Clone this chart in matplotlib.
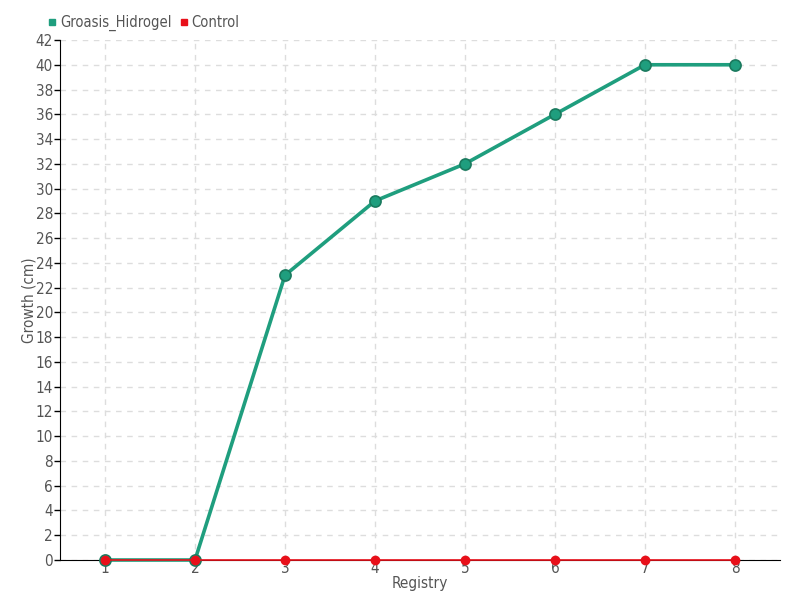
import matplotlib
matplotlib.use("Agg")
import matplotlib.pyplot as plt
from matplotlib.lines import Line2D

registry = [1, 2, 3, 4, 5, 6, 7, 8]
groasis = [0, 0, 23, 29, 32, 36, 40, 40]
control = [0, 0, 0, 0, 0, 0, 0, 0]
yticks = list(range(0, 43, 2))

plt.rcParams['font.family'] = ['DejaVu Sans']
plt.rcParams['font.stretch'] = 'condensed'
txt = '#555555'
green = '#1f9e7e'
green_dark = '#1a7a5e'
red = '#e8101a'

fig = plt.figure(figsize=(8, 6), dpi=100)
ax = fig.add_axes([60/800, 40/600, 720/800, 520/600])

ax.plot(registry, groasis, color=green, lw=2.6, marker='o', ms=8,
        markerfacecolor=green, markeredgecolor=green_dark, markeredgewidth=1.2, zorder=3,
        clip_on=False)
ax.plot(registry, control, color=red, lw=1.2, marker='o', ms=6,
        markerfacecolor=red, markeredgecolor=red, zorder=4, clip_on=False)

ax.set_xlim(0.5, 8.5)
ax.set_ylim(0, 42)
ax.set_xticks(registry)
ax.set_yticks(yticks)
ax.tick_params(axis='x', length=0, pad=1, labelsize=11, labelcolor=txt)
ax.tick_params(axis='y', length=4, width=1, direction='out', pad=1, labelsize=11, labelcolor=txt)
ax.grid(True, color='#dddddd', linestyle=(0, (4, 4)), linewidth=1)
ax.set_axisbelow(True)
for s in ['top', 'right']:
    ax.spines[s].set_visible(False)
ax.spines['left'].set_color('black')
ax.spines['bottom'].set_color('black')
ax.set_xlabel('Registry', fontsize=11, color=txt, labelpad=0)
ax.set_ylabel('Growth (cm)', fontsize=11, color=txt, labelpad=-1)

handles = [Line2D([], [], ls='none', marker='s', ms=5, color=green),
           Line2D([], [], ls='none', marker='s', ms=5, color=red)]
leg = fig.legend(handles, ['Groasis_Hidrogel', 'Control'], loc='upper left',
                 bbox_to_anchor=(32/800, 1 - 2/600), ncol=2, frameon=False,
                 handletextpad=0.05, columnspacing=0.3, handlelength=1, fontsize=10.5)
for t in leg.get_texts():
    t.set_color(txt)

fig.savefig('out.png', dpi=100)
